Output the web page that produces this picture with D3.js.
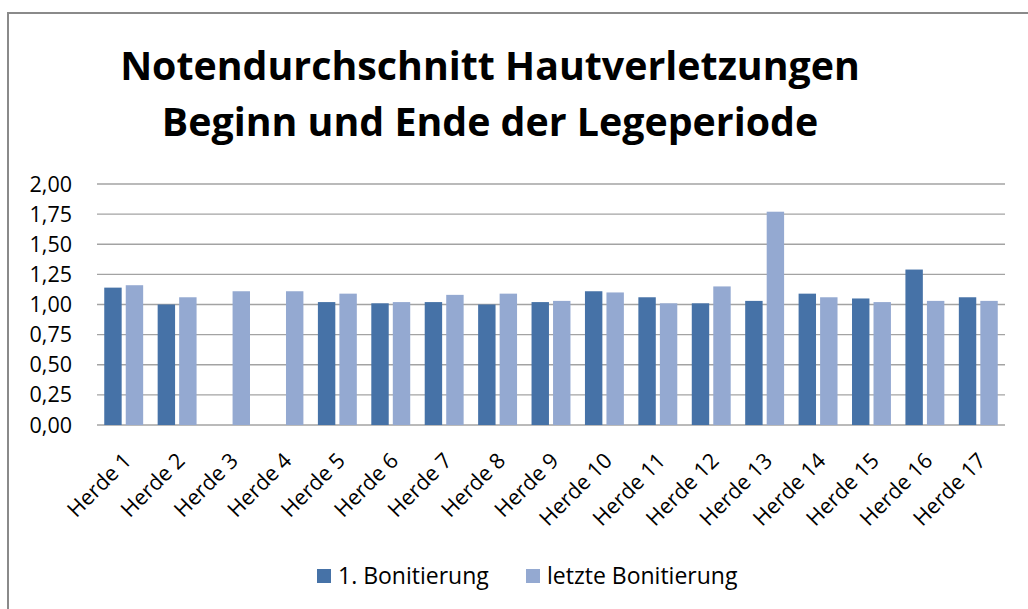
<!DOCTYPE html>
<html>
<head>
<meta charset="utf-8">
<script src="https://cdn.jsdelivr.net/npm/d3@7"></script>
<style>
  html, body { margin: 0; padding: 0; background: #fff; }
  svg { display: block; }
  text { font-family: "Open Sans", "Noto Sans", sans-serif; fill: #000; }
</style>
</head>
<body>
<svg id="chart" width="1028" height="609"></svg>
<script>
const titleLines = ["Notendurchschnitt Hautverletzungen", "Beginn und Ende der Legeperiode"];
const categories = ["Herde 1","Herde 2","Herde 3","Herde 4","Herde 5","Herde 6","Herde 7","Herde 8","Herde 9","Herde 10","Herde 11","Herde 12","Herde 13","Herde 14","Herde 15","Herde 16","Herde 17"];
const seriesNames = ["1. Bonitierung", "letzte Bonitierung"];
const ersteBonitierung  = [1.14, 1.00, null, null, 1.02, 1.01, 1.02, 1.00, 1.02, 1.11, 1.06, 1.01, 1.03, 1.09, 1.05, 1.29, 1.06];
const letzteBonitierung = [1.16, 1.06, 1.11, 1.11, 1.09, 1.02, 1.08, 1.09, 1.03, 1.10, 1.01, 1.15, 1.77, 1.06, 1.02, 1.03, 1.03];
const yTicks = [0, 0.25, 0.5, 0.75, 1.0, 1.25, 1.5, 1.75, 2.0];
const colors = ["#4672A7", "#94A9D1"];

const svg = d3.select("#chart");

// outer frame
svg.append("rect").attr("x", 8).attr("y", 13).attr("width", 1040).attr("height", 620)
  .attr("fill", "#fff").attr("stroke", "#8a8a8a").attr("stroke-width", 2);

const plotLeft = 97, plotRight = 1005, plotTop = 184, plotBottom = 425;
const x0 = d3.scaleBand().domain(categories).range([plotLeft, plotRight]).padding(0);
const x1 = d3.scaleBand().domain(seriesNames).range([0, x0.bandwidth()]).paddingInner(0.19).paddingOuter(0.337);
const y = d3.scaleLinear().domain([0, 2]).range([plotBottom, plotTop]);

// gridlines
svg.append("g").selectAll("line").data(yTicks).join("line")
  .attr("x1", plotLeft).attr("x2", plotRight)
  .attr("y1", d => y(d)).attr("y2", d => y(d))
  .attr("stroke", "#a3a3a3").attr("stroke-width", 1.3);

// y labels
const fmt = d => d3.format(".2f")(d).replace(".", ",");
svg.append("g").selectAll("text").data(yTicks).join("text")
  .attr("x", 72).attr("y", d => y(d)).attr("dy", "0.35em")
  .attr("text-anchor", "end").style("font-size", "21.5px")
  .text(fmt);

// bars
const seriesData = [ersteBonitierung, letzteBonitierung];
seriesData.forEach((vals, si) => {
  svg.append("g").selectAll("rect")
    .data(categories.map((c, i) => ({c, v: vals[i]})).filter(d => d.v !== null))
    .join("rect")
    .attr("x", d => x0(d.c) + x1(seriesNames[si]))
    .attr("width", x1.bandwidth())
    .attr("y", d => y(d.v))
    .attr("height", d => y(0) - y(d.v))
    .attr("fill", colors[si]);
});

// x labels
svg.append("g").selectAll("text").data(categories).join("text")
  .attr("text-anchor", "end")
  .attr("transform", d => `translate(${x0(d) + x0.bandwidth() / 2 + 9},${462}) rotate(-45)`)
  .style("font-size", "21.5px")
  .text(d => d);

// title
const t = svg.append("g");
const baselines = [80, 136];
const centerX = 490;
const tl = t.selectAll("text").data(titleLines).join("text")
  .attr("x", centerX).attr("y", (d, i) => baselines[i])
  .attr("text-anchor", "middle")
  .style("font-weight", "bold").style("font-size", "40px")
  .text(d => d);
const w0 = tl.nodes()[0].getComputedTextLength();
const fs = 40 * 740 / w0;
tl.style("font-size", fs + "px");

// legend
const legendItems = [
  {name: seriesNames[0], sx: 317, tx: 338},
  {name: seriesNames[1], sx: 526, tx: 547}
];
const lg = svg.append("g");
legendItems.forEach((it, i) => {
  lg.append("rect").attr("x", it.sx).attr("y", 569).attr("width", 14).attr("height", 14).attr("fill", colors[i]);
  lg.append("text").attr("x", it.tx).attr("y", 584).style("font-size", "23px").text(it.name);
});
</script>
</body>
</html>
